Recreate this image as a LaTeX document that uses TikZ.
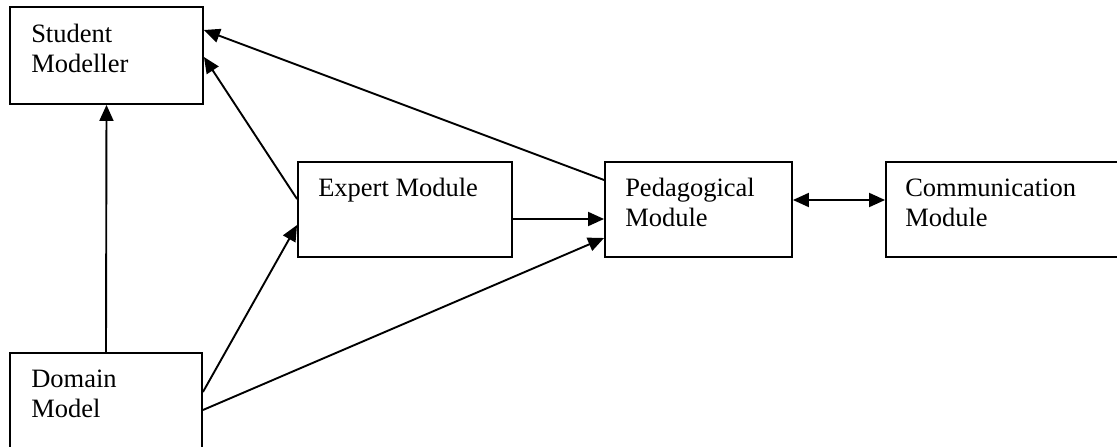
\documentclass[tikz,border=0pt]{standalone}
\usepackage{fontspec}
\setmainfont{Liberation Serif}
\usetikzlibrary{arrows.meta}

\tikzset{
    box/.style={draw=black, line width=1.9pt, inner sep=0pt, minimum width=#1},
    txt/.style={anchor=base west, align=left, inner sep=0pt, font=\fontsize{26.5}{30}\selectfont},
    arr/.style={line width=1.9pt, -{Triangle[length=16pt,width=14pt]}},
    dblarr/.style={line width=1.9pt, {Triangle[length=16pt,width=14pt]}-{Triangle[length=16pt,width=14pt]}},
}

\begin{document}
\begin{tikzpicture}[x=1pt, y=-1pt]
    \useasboundingbox (0,0) rectangle (1117,447);
    \clip (0,0) rectangle (1117,447);

    \node[box=193pt, minimum height=97pt] (SM) at (106.5,55.5) {};
    \node[box=192pt, minimum height=100pt] (DM) at (106,403) {};
    \node[box=214pt, minimum height=95pt] (EM) at (405,209.5) {};
    \node[box=187pt, minimum height=95pt] (PM) at (698.5,209.5) {};
    \node[box=244pt, minimum height=95pt] (CM) at (1008,209.5) {};

    % two-line labels sit on the baseline of their last line
    \node[txt] (SMt) at ([xshift=22pt,yshift=-66pt]SM.north west) {Student\\Modeller};
    \node[txt] (DMt) at ([xshift=22pt,yshift=-65pt]DM.north west) {Domain\\Model};
    \node[txt] (EMt) at ([xshift=21pt,yshift=-35pt]EM.north west) {Expert Module};
    \node[txt] (PMt) at ([xshift=21pt,yshift=-65pt]PM.north west) {Pedagogical\\Module};
    \node[txt] (CMt) at ([xshift=20pt,yshift=-65pt]CM.north west) {Communication\\Module};

    \draw[arr] (DM.north) to (SM.south);
    \draw[arr] ([yshift=10.5pt]EM.west) to ([yshift=-1.5pt]SM.east);
    \draw[arr] ([yshift=29.5pt]PM.west) to ([yshift=25.5pt]SM.east);
    \draw[arr] ([yshift=11pt]DM.east) to ([yshift=-15.5pt]EM.west);
    \draw[arr] ([yshift=-7pt]DM.east) to ([yshift=-28.5pt]PM.west);
    \draw[arr] ([yshift=-9.5pt]EM.east) to ([yshift=-9.5pt]PM.west);
    \draw[dblarr] ([yshift=9.5pt]PM.east) to ([yshift=9.5pt]CM.west);
\end{tikzpicture}
\end{document}
